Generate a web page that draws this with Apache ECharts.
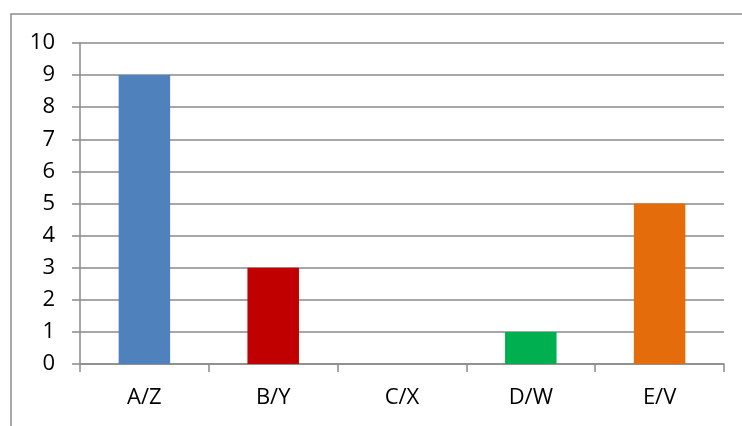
<!DOCTYPE html>
<html>
<head>
<meta charset="utf-8">
<script src="https://cdn.jsdelivr.net/npm/echarts@6/dist/echarts.min.js"></script>
<style>
  html, body { margin: 0; padding: 0; background: #fff; }
  #chart { width: 742px; height: 426px; }
</style>
</head>
<body>
<div id="chart"></div>
<script>
// data
const categories = ['A/Z', 'B/Y', 'C/X', 'D/W', 'E/V'];
const values = [9, 3, 0, 1, 5];
const barColors = ['#4F81BD', '#C00000', '#9BBB59', '#00B050', '#E46C0A'];

const gridColor = '#8a8a8a';
const font = 'Open Sans';

let chart = echarts.init(document.getElementById('chart'), null, { renderer: 'canvas' });

let option = {
  animation: false,
  backgroundColor: '#fff',
  graphic: [{
    // outer chart frame (runs off the right and bottom edge)
    type: 'rect',
    shape: { x: 11, y: 14, width: 900, height: 600 },
    style: { fill: 'none', stroke: '#8c8c8c', lineWidth: 1.5 },
    silent: true
  }],
  grid: { left: 80, right: 18, top: 43, bottom: 62 },
  xAxis: {
    type: 'category',
    data: categories,
    axisLine: { lineStyle: { color: gridColor, width: 1.5 } },
    axisTick: { show: true, length: 8, lineStyle: { color: gridColor, width: 1.5 } },
    axisLabel: { color: '#000', fontFamily: font, fontSize: 22, margin: 23 }
  },
  yAxis: {
    type: 'value',
    min: 0,
    max: 10,
    interval: 1,
    axisLine: { show: true, lineStyle: { color: gridColor, width: 1.5 } },
    axisTick: { show: true, length: 8, lineStyle: { color: gridColor, width: 1.5 } },
    axisLabel: { color: '#000', fontFamily: font, fontSize: 22, margin: 25 },
    splitLine: { lineStyle: { color: gridColor, width: 1.5 } }
  },
  series: [{
    type: 'bar',
    barCategoryGap: '60%',
    data: values.map((v, i) => ({ value: v, itemStyle: { color: barColors[i] } }))
  }]
};

chart.setOption(option);
</script>
</body>
</html>
